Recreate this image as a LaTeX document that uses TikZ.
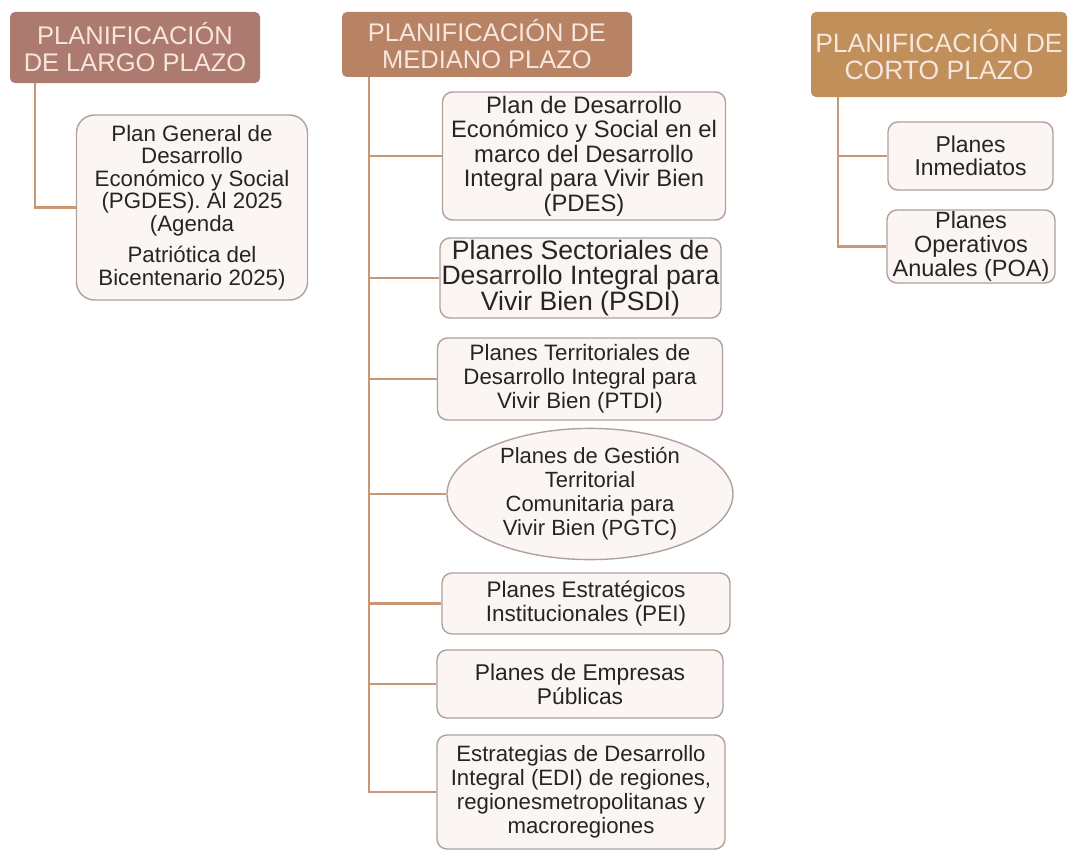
\documentclass[tikz,border=0pt]{standalone}
\usepackage{fontspec}
\setmainfont{Liberation Sans}
\usetikzlibrary{shapes.geometric}
\definecolor{hA}{RGB}{172,122,110}
\definecolor{hB}{RGB}{184,131,100}
\definecolor{hC}{RGB}{192,143,90}
\definecolor{htext}{RGB}{247,230,222}
\definecolor{conncol}{RGB}{200,152,118}
\definecolor{boxdraw}{RGB}{175,162,156}
\definecolor{boxfill}{RGB}{251,246,244}
\definecolor{bodytext}{RGB}{40,36,36}
\tikzset{
  hdr/.style={rectangle, rounded corners=5pt, inner sep=0pt, align=center,
    text=htext, font=\fontsize{25.5}{27}\selectfont},
  itembox/.style={rectangle, rounded corners=10pt, draw=boxdraw, line width=1.4pt,
    fill=boxfill, inner sep=0pt, align=center, text=bodytext,
    font=\fontsize{22.5}{24}\selectfont},
  itemell/.style={ellipse, draw=boxdraw, line width=1.4pt, fill=boxfill,
    inner sep=0pt, align=center, text=bodytext,
    font=\fontsize{22}{24}\selectfont},
  conn/.style={draw=conncol, line width=2.6pt}
}
\begin{document}
\begin{tikzpicture}[x=1pt,y=-1pt]
\useasboundingbox[fill=white] (0,0) rectangle (1068,851);
% headers
\node[hdr, fill=hA, minimum width=250pt, minimum height=71pt] (h1) at (135,47.5)
  {PLANIFICACIÓN\\DE LARGO PLAZO};
\node[hdr, fill=hB, minimum width=290pt, minimum height=65pt] (h2) at (487,44.5)
  {PLANIFICACIÓN DE\\MEDIANO PLAZO};
\node[hdr, fill=hC, minimum width=256pt, minimum height=85pt, font=\fontsize{26.5}{27}\selectfont] (h3) at (939,54.5)
  {PLANIFICACIÓN DE\\CORTO PLAZO};
% long term
\node[itembox, rounded corners=18pt, minimum width=231pt, minimum height=185pt,
  font=\fontsize{22.3}{22.5}\selectfont] (pgdes) at (192,207.5)
  {Plan General de\\Desarrollo\\Económico y Social\\(PGDES). Al 2025\\(Agenda\\[9pt]Patriótica del\\Bicentenario 2025)};
% medium term
\node[itembox, minimum width=283pt, minimum height=128pt, font=\fontsize{23.8}{24.5}\selectfont] (pdes) at (584,156)
  {Plan de Desarrollo\\Económico y Social en el\\marco del Desarrollo\\Integral para Vivir Bien\\(PDES)};
\node[itembox, minimum width=281pt, minimum height=80pt, font=\fontsize{26.6}{24.5}\selectfont] (psdi) at (580.5,278)
  {Planes Sectoriales de\\Desarrollo Integral para\\Vivir Bien (PSDI)};
\node[itembox, minimum width=285pt, minimum height=82pt, font=\fontsize{22.3}{24}\selectfont] (ptdi) at (580,379)
  {Planes Territoriales de\\Desarrollo Integral para\\Vivir Bien (PTDI)};
\node[itemell, minimum width=286pt, minimum height=128pt] (pgtc) at (590,494)
  {Planes de Gestión\\Territorial\\Comunitaria para\\Vivir Bien (PGTC)};
\node[itembox, minimum width=288pt, minimum height=61pt] (pei) at (586,603.5)
  {Planes Estratégicos\\Institucionales (PEI)};
\node[itembox, minimum width=286pt, minimum height=68pt, font=\fontsize{22.8}{24}\selectfont] (emp) at (580,684)
  {Planes de Empresas\\Públicas};
\node[itembox, minimum width=288pt, minimum height=114pt, font=\fontsize{22.2}{24}\selectfont] (edi) at (581,792)
  {Estrategias de Desarrollo\\Integral (EDI) de regiones,\\regionesmetropolitanas y\\macroregiones};
% short term
\node[itembox, minimum width=165pt, minimum height=68pt, font=\fontsize{22.9}{23}\selectfont] (inm) at (970.5,156)
  {Planes\\Inmediatos};
\node[itembox, minimum width=168pt, minimum height=73pt, font=\fontsize{23.5}{24}\selectfont] (poa) at (971,246.5)
  {Planes\\Operativos\\Anuales (POA)};
% connectors
\draw[conn] ([xshift=25pt]h1.south west) |- (pgdes.west);
\draw[conn] ([xshift=27pt]h2.south west) |- (pdes.west);
\draw[conn] ([xshift=27pt]h2.south west) |- (psdi.west);
\draw[conn] ([xshift=27pt]h2.south west) |- (ptdi.west);
\draw[conn] ([xshift=27pt]h2.south west) |- (pgtc.west);
\draw[conn] ([xshift=27pt]h2.south west) |- (pei.west);
\draw[conn] ([xshift=27pt]h2.south west) |- (emp.west);
\draw[conn] ([xshift=27pt]h2.south west) |- (edi.west);
\draw[conn] ([xshift=27pt]h3.south west) |- (inm.west);
\draw[conn] ([xshift=27pt]h3.south west) |- (poa.west);
\end{tikzpicture}
\end{document}
